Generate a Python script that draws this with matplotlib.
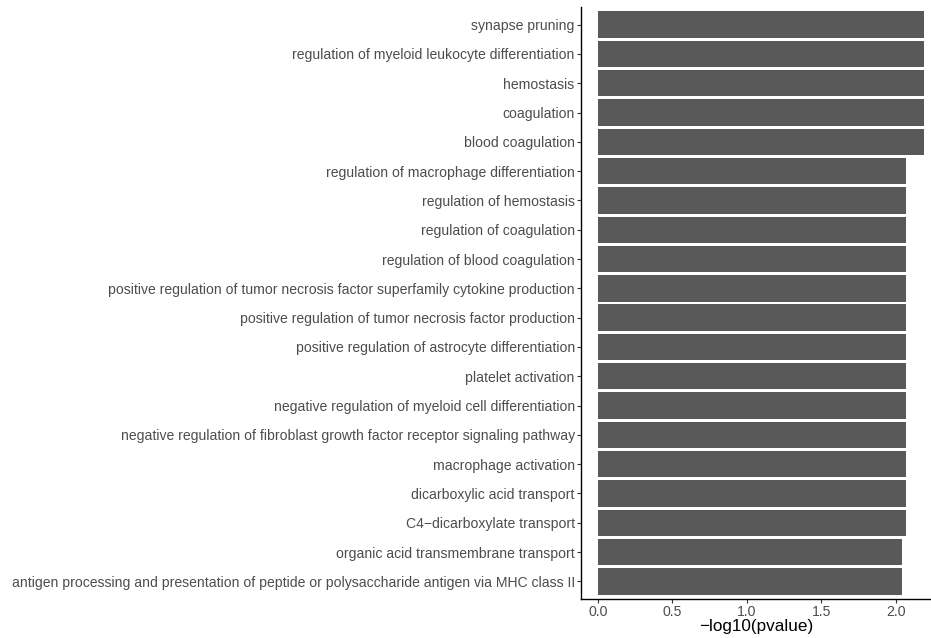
import matplotlib
matplotlib.use("Agg")
import matplotlib.pyplot as plt
import numpy as np

terms = [
    "synapse pruning",
    "regulation of myeloid leukocyte differentiation",
    "hemostasis",
    "coagulation",
    "blood coagulation",
    "regulation of macrophage differentiation",
    "regulation of hemostasis",
    "regulation of coagulation",
    "regulation of blood coagulation",
    "positive regulation of tumor necrosis factor superfamily cytokine production",
    "positive regulation of tumor necrosis factor production",
    "positive regulation of astrocyte differentiation",
    "platelet activation",
    "negative regulation of myeloid cell differentiation",
    "negative regulation of fibroblast growth factor receptor signaling pathway",
    "macrophage activation",
    "dicarboxylic acid transport",
    "C4\u2212dicarboxylate transport",
    "organic acid transmembrane transport",
    "antigen processing and presentation of peptide or polysaccharide antigen via MHC class II",
]
values = [2.19, 2.19, 2.19, 2.19, 2.19,
          2.07, 2.07, 2.07, 2.07, 2.07, 2.07, 2.07, 2.07, 2.07, 2.07, 2.07, 2.07, 2.07,
          2.04, 2.04]
xticks = [0.0, 0.5, 1.0, 1.5, 2.0]
xlabel = "\u2212log10(pvalue)"

plt.rcParams['font.family'] = ['Liberation Sans', 'DejaVu Sans']

fig = plt.figure(figsize=(9.31, 6.38), dpi=100)
ax = fig.add_axes([581/931, 39/638, 1 - 581/931, 592/638])

n = len(terms)
ypos = np.arange(n, 0, -1)
ax.barh(ypos, values, height=0.9, color="#595959", edgecolor="none")
ax.set_ylim(0.4, n + 0.6)
ax.set_xlim(-0.114, 2.235)
ax.set_yticks(ypos)
ax.set_yticklabels(terms, fontsize=10.12, color="#4D4D4D")
ax.set_xticks(xticks)
ax.set_xticklabels([f"{t:.1f}" for t in xticks], fontsize=10.12, color="#4D4D4D")
ax.set_xlabel(xlabel, fontsize=12.3, color="black", labelpad=0)
for s in ["top", "right"]:
    ax.spines[s].set_visible(False)
for s in ["left", "bottom"]:
    ax.spines[s].set_linewidth(1.0)
    ax.spines[s].set_color("black")
ax.tick_params(axis="both", length=3, width=0.8, color="#333333", pad=1.5)

fig.savefig("out.png", dpi=100)
